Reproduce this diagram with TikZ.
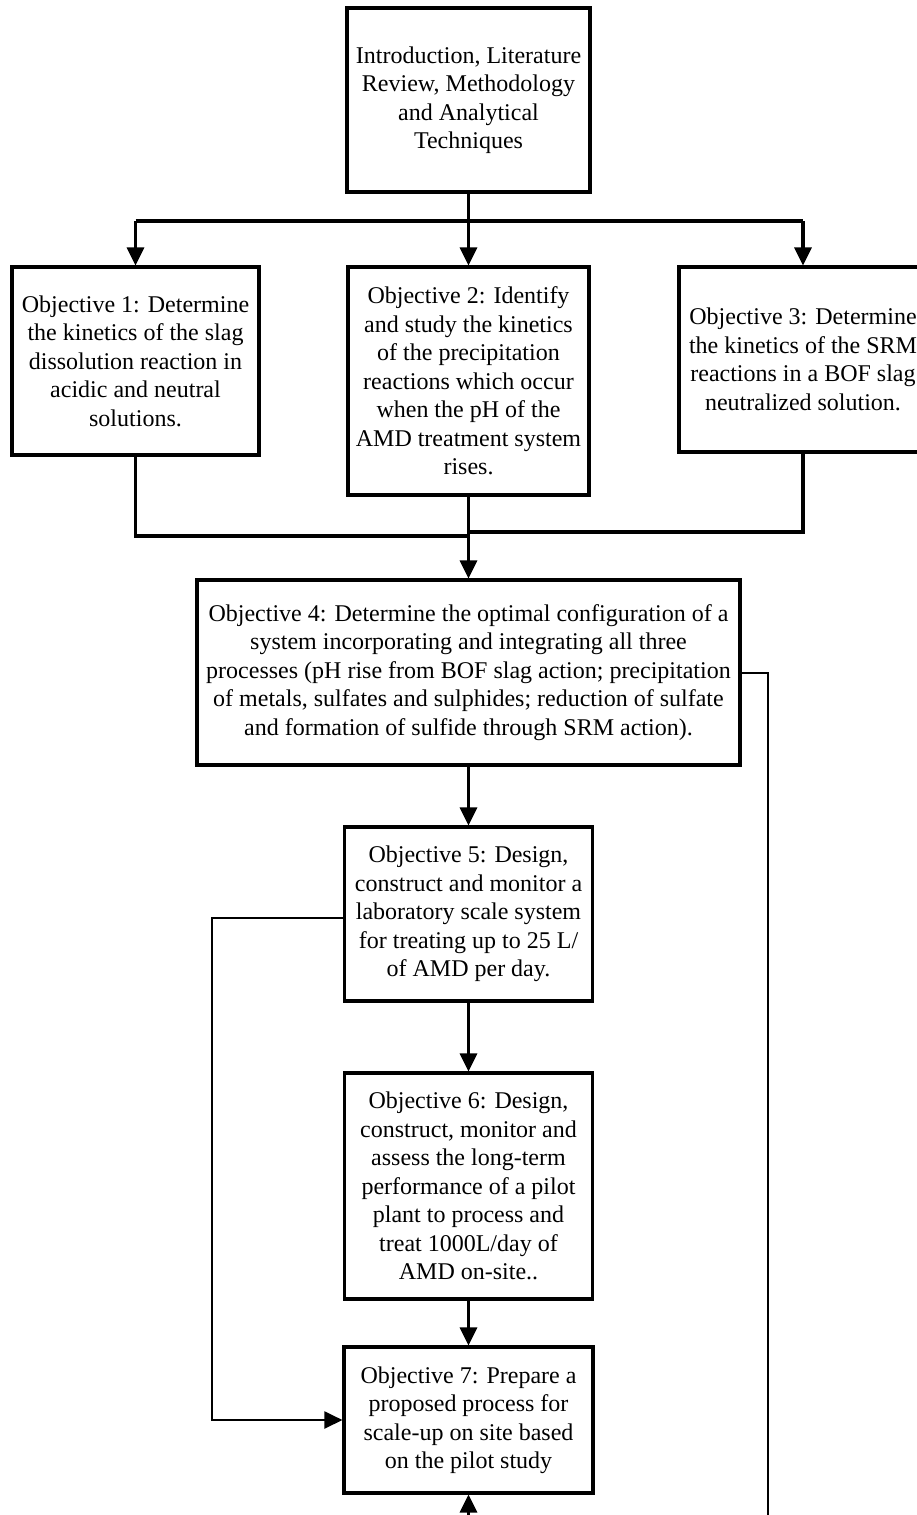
\documentclass[tikz,border=0pt]{standalone}
\usepackage{fontspec}
\setmainfont{Liberation Serif}
\usetikzlibrary{arrows.meta}
\begin{document}
\begin{tikzpicture}[x=1pt,y=-1pt,
  box/.style={draw, line width=3.1pt, inner sep=0pt, align=center, fill=white,
    font=\fontsize{24}{28.5}\selectfont},
  conn/.style={line width=3.1pt},
  thinline/.style={line width=2.1pt},
  tip/.style={-{Triangle[width=17pt,length=18pt]}}]
\useasboundingbox (0,0) rectangle (917,1515);
\clip (0,0) rectangle (917,1515);

\node[box, minimum width=243pt, minimum height=184pt] (top) at (468.5,100)
  {Introduction, Literature\\Review, Methodology\\and Analytical\\Techniques};
\node[box, minimum width=247pt, minimum height=188pt] (o1) at (135.5,361)
  {Objective 1: Determine\\the kinetics of the slag\\dissolution reaction in\\acidic and neutral\\solutions.};
\node[box, minimum width=241pt, minimum height=228pt] (o2) at (468.5,381)
  {Objective 2: Identify\\and study the kinetics\\of the precipitation\\reactions which occur\\when the pH of the\\AMD treatment system\\rises.};
\node[box, minimum width=248pt, minimum height=185pt] (o3) at (803,359.5)
  {Objective 3: Determine\\the kinetics of the SRM\\reactions in a BOF slag\\neutralized solution.};
\node[box, minimum width=543pt, minimum height=185pt] (o4) at (468.5,672.5)
  {Objective 4: Determine the optimal configuration of a\\system incorporating and integrating all three\\processes (pH rise from BOF slag action; precipitation\\of metals, sulfates and sulphides; reduction of sulfate\\and formation of sulfide through SRM action).};
\node[box, minimum width=248pt, minimum height=174pt] (o5) at (468.5,914)
  {Objective 5: Design,\\construct and monitor a\\laboratory scale system\\for treating up to 25 L/\\of AMD per day.};
\node[box, minimum width=248pt, minimum height=226pt] (o6) at (468.5,1186)
  {Objective 6: Design,\\construct, monitor and\\assess the long-term\\performance of a pilot\\plant to process and\\treat 1000L/day of\\AMD on-site..};
\node[box, minimum width=249pt, minimum height=146pt] (o7) at (468.5,1420)
  {Objective 7: Prepare a\\proposed process for\\scale-up on site based\\on the pilot study};

\coordinate (br) at (468.5,221);
\coordinate (j1) at (468.5,536);
\coordinate (j3) at (468.5,532);
\coordinate (bot) at (468.5,1530);
\coordinate (rx) at (768,673);
\coordinate (rb) at (768,1530);
\coordinate (lx) at (212,918);

\draw[conn, tip] (top.south) -- (o2.north);
\draw[conn] (br -| o1.north) -- (br -| o3.north);
\draw[conn, tip] (br -| o1.north) -- (o1.north);
\draw[conn, tip] (br -| o3.north) -- (o3.north);
\draw[conn] (o1.south) -- (o1.south |- j1) -- (j1);
\draw[conn] (o3.south) -- (o3.south |- j3) -- (j3);
\draw[conn, tip] (o2.south) -- (o4.north);
\draw[conn, tip] (o4.south) -- (o5.north);
\draw[conn, tip] (o5.south) -- (o6.north);
\draw[conn, tip] (o6.south) -- (o7.north);
\draw[conn, tip] (bot) -- (o7.south);
\draw[thinline] (o4.east |- rx) -- (rx) -- (rb);
\draw[thinline, tip] (o5.west |- lx) -- (lx) -- (lx |- o7.west) -- (o7.west);
\end{tikzpicture}
\end{document}
